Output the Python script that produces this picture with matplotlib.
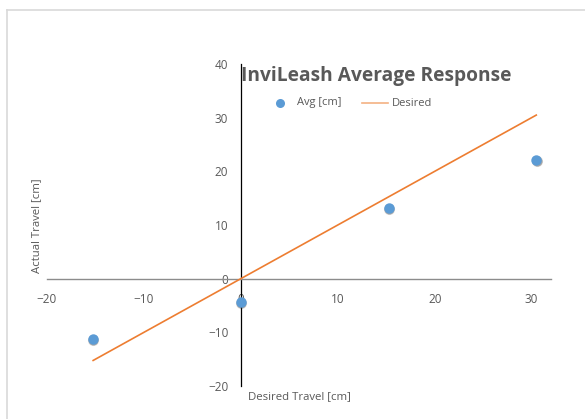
import matplotlib.pyplot as plt
import matplotlib.transforms as mtransforms
from matplotlib.lines import Line2D

# travel in cm (6 in and 12 in steps, both directions)
desired_cm = [-15.24, 0.0, 15.24, 30.48]
avg_cm = [-11.2, -4.3, 13.2, 22.2]
x_ticks = [-20, -10, 0, 10, 20, 30]
y_ticks = [-20, -10, 0, 10, 20, 30, 40]

W, H = 585, 419
text_grey = '#595959'
blue = '#5B9BD5'
orange = '#ED7D31'
plt.rcParams['font.family'] = ['Open Sans', 'DejaVu Sans']

fig = plt.figure(figsize=(W / 100, H / 100), dpi=100)
ax = fig.add_axes([47 / W, 1 - 386 / H, (551 - 47) / W, (386 - 64) / H])

ax.plot(desired_cm, desired_cm, color=orange, lw=1.2, zorder=3)

# soft drop shadow under the markers (two faint layers)
for dy, size, alpha in [(-1.2, 8.0, 0.18), (-0.9, 7.2, 0.3)]:
    shadow = mtransforms.offset_copy(ax.transData, fig=fig, x=0.2, y=dy, units='points')
    ax.plot(desired_cm, avg_cm, 'o', color='#303030', alpha=alpha, ms=size, mec='none',
            transform=shadow, zorder=3.5)
ax.plot(desired_cm, avg_cm, 'o', color=blue, ms=7.5, mec='none', zorder=4)

ax.set_xlim(-20, 32)
ax.set_ylim(-20, 40)
ax.set_xticks(x_ticks)
ax.set_yticks(y_ticks)

for side in ('top', 'right'):
    ax.spines[side].set_visible(False)
ax.spines['left'].set_position(('data', 0))
ax.spines['bottom'].set_position(('data', 0))
ax.spines['left'].set_color('#000000')
ax.spines['left'].set_linewidth(0.9)
ax.spines['bottom'].set_color('#8C8C8C')
ax.spines['bottom'].set_linewidth(1.0)
ax.tick_params(length=0, labelsize=8.5, labelcolor=text_grey)
ax.tick_params(axis='x', pad=10)
ax.tick_params(axis='y', pad=9)
ax.patch.set_alpha(0)


def px(x, y):
    return x / W, 1 - y / H


fig.text(*px(376, 76), 'InviLeash Average Response', ha='center', va='center',
         fontsize=13.8, fontweight='bold', color=text_grey)
fig.text(*px(299, 397), 'Desired Travel [cm]', ha='center', va='center',
         fontsize=8.2, color=text_grey)
fig.text(*px(37, 226), 'Actual Travel [cm]', ha='center', va='center',
         rotation=90, fontsize=8.2, color=text_grey)

# legend
fig.add_artist(Line2D(*zip(px(280, 103)), ls='none', marker='o', color=blue,
                      ms=6.5, mec='none'))
fig.text(*px(297, 103), 'Avg [cm]', ha='left', va='center', fontsize=8, color=text_grey)
fig.add_artist(Line2D(*zip(px(362, 103), px(388, 103)), color='#F4B183', lw=1.2))
fig.text(*px(392, 103), 'Desired', ha='left', va='center', fontsize=8, color=text_grey)

# chart area border (left and top edges visible)
fig.add_artist(Line2D(*zip(px(7, 420), px(7, 10)), color='#D9D9D9', lw=1.2))
fig.add_artist(Line2D(*zip(px(7, 10), px(585, 10)), color='#D9D9D9', lw=1.2))

fig.savefig('out.png', dpi=100)
